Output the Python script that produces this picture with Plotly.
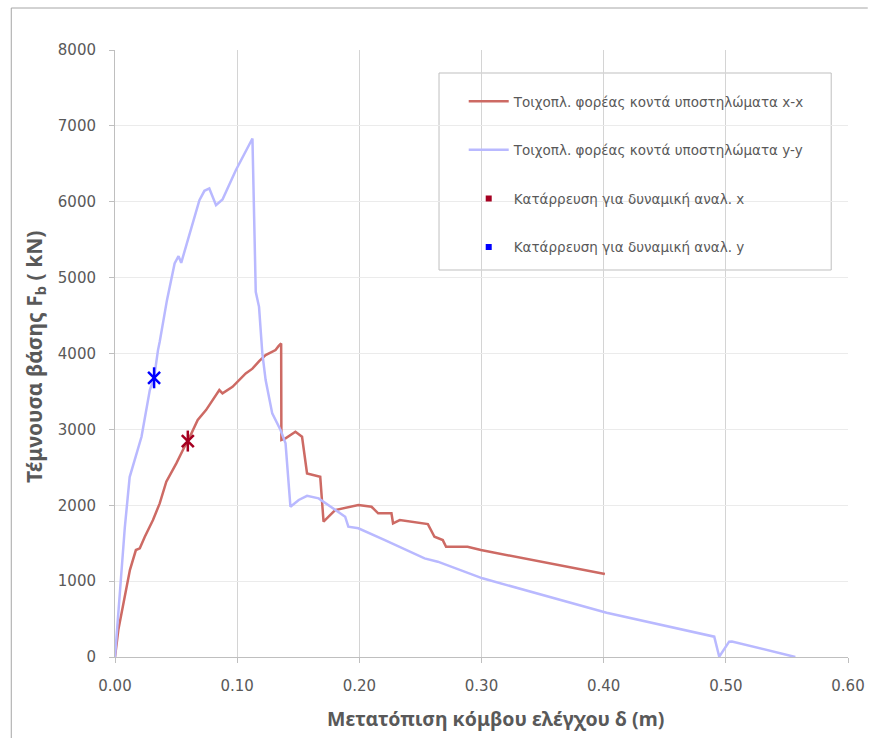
import plotly.graph_objects as go

# ---- data ----
y_dir_disp = [0.0, 0.004, 0.008, 0.012, 0.0217, 0.0285, 0.032, 0.0352, 0.0366, 0.0425, 0.0488, 0.052, 0.0542,
              0.0596, 0.0691, 0.0732, 0.0772, 0.0827, 0.088, 0.0989, 0.1125, 0.1152, 0.1179, 0.1206,
              0.1233, 0.1287, 0.1355, 0.1396, 0.1436, 0.1504, 0.1572, 0.1667, 0.1884, 0.191, 0.1992,
              0.2209, 0.2534, 0.2642, 0.3008, 0.4024, 0.4905, 0.4946, 0.5027, 0.505, 0.5217, 0.5569]
y_dir_force = [0, 900, 1700, 2371, 2902, 3518, 3680, 4045, 4154, 4700, 5187, 5283, 5195,
               5494, 6021, 6144, 6175, 5955, 6030, 6416, 6834, 4813, 4615, 4001,
               3650, 3211, 2991, 2816, 1980, 2069, 2125, 2091, 1849, 1717, 1696,
               1541, 1300, 1256, 1037, 584, 268, 4, 202, 205, 136, 0]

x_dir_disp = [0.0, 0.0027, 0.0122, 0.0171, 0.0203, 0.0244, 0.0311, 0.0366, 0.042, 0.0502, 0.0569,
              0.0596, 0.0677, 0.0745, 0.0854, 0.088, 0.0962, 0.107, 0.1125, 0.118, 0.1233, 0.1314,
              0.134, 0.136, 0.1362, 0.1396, 0.1477, 0.1531, 0.1572, 0.168, 0.1707, 0.1802, 0.1992,
              0.21, 0.2154, 0.2263, 0.2276, 0.2331, 0.2561, 0.2615, 0.2683, 0.271, 0.2886, 0.2995, 0.401]
x_dir_force = [0, 356, 1146, 1410, 1432, 1585, 1805, 2025, 2310, 2552, 2771,
               2846, 3123, 3254, 3518, 3474, 3561, 3737, 3800, 3900, 3979, 4045,
               4100, 4132, 2860, 2881, 2968, 2903, 2420, 2375, 1783, 1937, 2003,
               1980, 1893, 1893, 1762, 1805, 1752, 1585, 1541, 1453, 1453, 1410, 1093]

collapse_x_disp = [0.0596]
collapse_x_force = [2846]
collapse_y_disp = [0.032]
collapse_y_force = [3680]

names = ["Τοιχοπλ. φορέας κοντά υποστηλώματα x-x",
         "Τοιχοπλ. φορέας κοντά υποστηλώματα y-y",
         "Κατάρρευση για δυναμική αναλ. x",
         "Κατάρρευση για δυναμική αναλ. y"]

x_title = "<b>Μετατόπιση κόμβου ελέγχου δ (m)</b>"
y_title = "<b>Τέμνουσα βάσης F<sub>b</sub> ( kN)</b>"

x_ticks = [0.0, 0.1, 0.2, 0.3, 0.4, 0.5, 0.6]
y_ticks = [0, 1000, 2000, 3000, 4000, 5000, 6000, 7000, 8000]

RED = "#CD6A64"
BLUE_L = "#B9B9FF"
RED_D = "#A50021"
BLUE_D = "#0000FF"

fig = go.Figure()
fig.add_trace(go.Scatter(x=x_dir_disp, y=x_dir_force, mode="lines", name=names[0],
                         line=dict(color=RED, width=2.5), legendgroup="a"))
fig.add_trace(go.Scatter(x=y_dir_disp, y=y_dir_force, mode="lines", name=names[1],
                         line=dict(color=BLUE_L, width=2.5), legendgroup="b"))
# star markers (x + vertical bar)
for xs, ys, col, nm, grp in [(collapse_x_disp, collapse_x_force, RED_D, names[2], "c"),
                             (collapse_y_disp, collapse_y_force, BLUE_D, names[3], "d")]:
    fig.add_trace(go.Scatter(x=xs, y=ys, mode="markers", showlegend=False, legendgroup=grp,
                             marker=dict(symbol="x-thin-open", size=12, color=col,
                                         line=dict(color=col, width=2.5))))
    fig.add_trace(go.Scatter(x=xs, y=ys, mode="markers", showlegend=False, legendgroup=grp,
                             marker=dict(symbol="line-ns-open", size=15, color=col,
                                         line=dict(color=col, width=2.5))))
    fig.add_trace(go.Scatter(x=[None], y=[None], mode="markers", name=nm, legendgroup=grp,
                             marker=dict(symbol="square", size=6, color=col)))

L, R, T, B = 115, 20, 50, 81
W, H = 877, 738
pw, ph = W - L - R, H - T - B

def px(xp):
    return (xp - L) / pw

def py(yp):
    return (H - B - yp) / ph

font = "'DejaVu Sans', 'Noto Sans', sans-serif"
tfont = "'Noto Sans', 'Open Sans', sans-serif"

fig.update_layout(
    width=W, height=H,
    margin=dict(l=L, r=R, t=T, b=B),
    paper_bgcolor="white", plot_bgcolor="white",
    font=dict(family=font, color="#595959", size=13),
    showlegend=True,
    legend=dict(x=px(468), y=py(86), xanchor="left", yanchor="top",
                bgcolor="rgba(0,0,0,0)", borderwidth=0,
                font=dict(size=13.5, color="#595959", family=font),
                tracegroupgap=28, itemwidth=40),
    shapes=[
        dict(type="rect", xref="paper", yref="paper", x0=px(443), x1=px(840), y0=py(270), y1=py(73),
             line=dict(color="#BFBFBF", width=1), fillcolor="white", layer="below"),
        dict(type="line", xref="paper", yref="paper", x0=px(10), x1=px(10), y0=py(8), y1=py(738),
             line=dict(color="#A6A6A6", width=1)),
        dict(type="line", xref="paper", yref="paper", x0=px(10), x1=px(877), y0=py(8), y1=py(8),
             line=dict(color="#A6A6A6", width=1)),
    ],
    annotations=[
        dict(text=x_title, xref="paper", yref="paper", x=px(500), y=py(718),
             xanchor="center", yanchor="middle", showarrow=False,
             font=dict(size=19.5, color="#595959", family=tfont)),
        dict(text=y_title, xref="paper", yref="paper", x=px(34), y=py(357),
             xanchor="center", yanchor="middle", showarrow=False, textangle=-90,
             font=dict(size=21, color="#595959", family=tfont)),
    ],
)

fig.update_xaxes(range=[0, 0.6], tickvals=x_ticks, tickformat=".2f",
                 showgrid=True, gridcolor="#D4D4D4", gridwidth=1,
                 showline=True, linecolor="#BFBFBF", linewidth=1,
                 ticks="outside", ticklen=5, tickcolor="#BFBFBF",
                 zeroline=False, tickfont=dict(size=15, color="#595959"),
                 ticklabelstandoff=10)
fig.update_yaxes(range=[0, 8000], tickvals=y_ticks,
                 showgrid=True, gridcolor="#EBEBEB", gridwidth=1,
                 showline=True, linecolor="#BFBFBF", linewidth=1,
                 ticks="outside", ticklen=5, tickcolor="#BFBFBF",
                 zeroline=False, tickfont=dict(size=15, color="#595959"),
                 ticklabelstandoff=10)

fig.write_html("out.html")
